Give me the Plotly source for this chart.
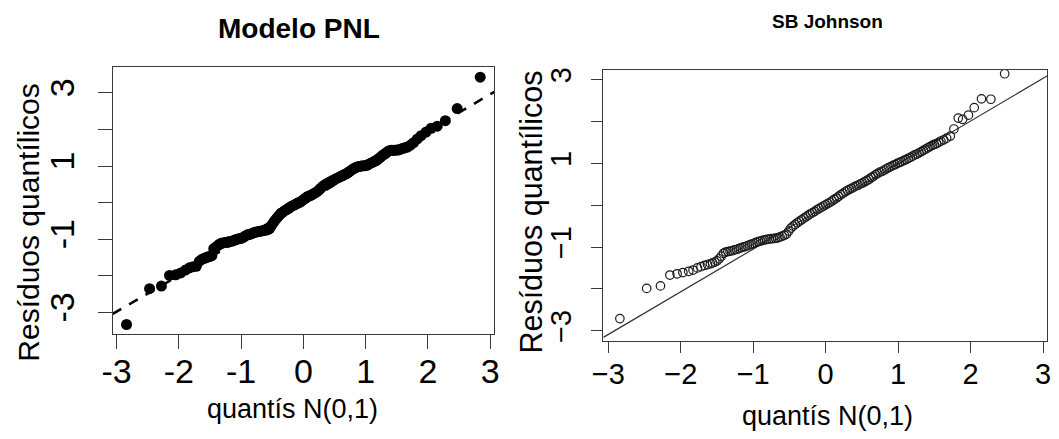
import plotly.graph_objects as go

W, H = 1059, 439

# ---------------- data ----------------
theo_q = [
    -2.84, -2.47, -2.28, -2.15, -2.05, -1.97, -1.89, -1.83, -1.77, -1.72, -1.67, -1.63,
    -1.59, -1.56, -1.53, -1.50, -1.47, -1.44, -1.41, -1.38, -1.35, -1.32,
    -1.29, -1.26, -1.23, -1.20, -1.17, -1.14, -1.11, -1.08, -1.05, -1.02,
    -0.99, -0.96, -0.93, -0.90, -0.87, -0.84, -0.81, -0.78, -0.75, -0.72,
    -0.69, -0.66, -0.63, -0.60, -0.57, -0.54, -0.51, -0.48, -0.45, -0.42,
    -0.39, -0.36, -0.33, -0.30, -0.27, -0.24, -0.21, -0.18, -0.15, -0.12,
    -0.09, -0.06, -0.03, 0.00, 0.03, 0.06, 0.09, 0.12, 0.15, 0.18,
    0.21, 0.24, 0.27, 0.30, 0.33, 0.36, 0.39, 0.42, 0.45, 0.48,
    0.51, 0.54, 0.57, 0.60, 0.63, 0.66, 0.69, 0.72, 0.75, 0.78,
    0.81, 0.84, 0.87, 0.90, 0.93, 0.96, 0.99, 1.02, 1.05, 1.08,
    1.11, 1.14, 1.17, 1.20, 1.23, 1.26, 1.29, 1.32, 1.35, 1.38,
    1.41, 1.44, 1.47, 1.50, 1.53, 1.56, 1.59,
    1.63, 1.67, 1.72, 1.77, 1.83, 1.89, 1.97, 2.05, 2.15, 2.28, 2.47, 2.84,
]

resid_pnl = [
    -3.33, -2.35, -2.28, -1.99, -1.97, -1.92, -1.84, -1.78, -1.75, -1.74, -1.60, -1.55,
    -1.52, -1.50, -1.48, -1.47, -1.45, -1.26, -1.22, -1.18, -1.14, -1.11,
    -1.10, -1.09, -1.08, -1.07, -1.06, -1.05, -1.03, -1.01, -0.99, -0.98,
    -0.97, -0.94, -0.91, -0.88, -0.87, -0.85, -0.83, -0.81, -0.80, -0.79,
    -0.78, -0.77, -0.76, -0.75, -0.74, -0.70, -0.62, -0.54, -0.47, -0.41,
    -0.35, -0.29, -0.26, -0.22, -0.19, -0.16, -0.12, -0.09, -0.07, -0.04,
    -0.01, 0.01, 0.04, 0.08, 0.12, 0.16, 0.18, 0.20, 0.23, 0.26,
    0.29, 0.33, 0.38, 0.43, 0.47, 0.50, 0.53, 0.56, 0.59, 0.61,
    0.64, 0.67, 0.69, 0.72, 0.74, 0.77, 0.79, 0.83, 0.86, 0.90,
    0.93, 0.96, 0.98, 0.99, 1.00, 1.01, 1.01, 1.02, 1.05, 1.08,
    1.10, 1.13, 1.15, 1.19, 1.23, 1.28, 1.31, 1.35, 1.39, 1.42,
    1.43, 1.43, 1.43, 1.44, 1.44, 1.46, 1.48,
    1.50, 1.52, 1.57, 1.64, 1.74, 1.83, 1.93, 2.03, 2.09, 2.24, 2.57, 3.43,
]

# largest SB Johnson residual lies above the plotted range, so it is not listed
resid_sbj = [
    -2.71, -1.99, -1.93, -1.67, -1.64, -1.61, -1.58, -1.55, -1.50, -1.47, -1.44, -1.42,
    -1.40, -1.38, -1.36, -1.33, -1.28, -1.22, -1.15, -1.12, -1.11, -1.10,
    -1.09, -1.07, -1.06, -1.04, -1.02, -1.00, -0.99, -0.97, -0.95, -0.93,
    -0.91, -0.89, -0.87, -0.86, -0.84, -0.83, -0.82, -0.81, -0.80, -0.80,
    -0.79, -0.78, -0.76, -0.74, -0.72, -0.69, -0.62, -0.55, -0.50, -0.46,
    -0.42, -0.38, -0.35, -0.31, -0.28, -0.24, -0.21, -0.18, -0.15, -0.11,
    -0.08, -0.05, -0.02, 0.01, 0.04, 0.07, 0.10, 0.14, 0.17, 0.21,
    0.25, 0.28, 0.32, 0.35, 0.38, 0.40, 0.43, 0.46, 0.48, 0.51,
    0.53, 0.56, 0.59, 0.62, 0.66, 0.69, 0.73, 0.76, 0.79, 0.81,
    0.84, 0.87, 0.90, 0.92, 0.95, 0.97, 1.00, 1.02, 1.04, 1.07,
    1.09, 1.12, 1.14, 1.17, 1.20, 1.22, 1.25, 1.28, 1.31, 1.34,
    1.37, 1.40, 1.43, 1.45, 1.47, 1.50, 1.53,
    1.56, 1.60, 1.65, 1.82, 2.08, 2.05, 2.15, 2.33, 2.54, 2.53, 3.14,
]

pnl_line = {"intercept": -0.01, "slope": 0.99}
sbj_line = {"intercept": -0.03, "slope": 1.02}

tick_vals = [-3, -2, -1, 0, 1, 2, 3]
x_ticktext_left = ["-3", "-2", "-1", "0", "1", "2", "3"]
y_ticktext_left = ["-3", "", "-1", "", "1", "", "3"]
x_ticktext_right = ["\u22123", "\u22122", "\u22121", "0", "1", "2", "3"]
y_ticktext_right = ["\u22123", "", "\u22121", "", "1", "", "3"]

title_left = "Modelo PNL"
title_right = "SB Johnson"
xlab = "quantís N(0,1)"
ylab = "Resíduos quantílicos"

# ---------------- layout geometry (pixels) ----------------
FONT = "Liberation Sans, Arial, sans-serif"
L_box = (102.3, 490.3, 65.7, 335.3)   # left, right, top, bottom
R_box = (601.0, 1052.3, 68.3, 341.7)
L_xr = [-3.063, 3.068]
L_yr = [-3.596, 3.704]
R_xr = [-3.068, 3.06]
R_yr = [-3.236, 3.237]


def dom(box):
    l, r, t, b = box
    return [l / W, r / W], [1 - b / H, 1 - t / H]


Lxd, Lyd = dom(L_box)
Rxd, Ryd = dom(R_box)

fig = go.Figure()

# left panel
fig.add_trace(go.Scatter(
    x=L_xr, y=[pnl_line["intercept"] + pnl_line["slope"] * v for v in L_xr],
    mode="lines", line=dict(color="black", width=2.6, dash="10px,9px"),
    xaxis="x", yaxis="y", hoverinfo="skip", showlegend=False))
fig.add_trace(go.Scatter(
    x=theo_q, y=resid_pnl, mode="markers",
    marker=dict(symbol="circle", size=11, color="black"),
    xaxis="x", yaxis="y", showlegend=False))

# right panel
fig.add_trace(go.Scatter(
    x=R_xr, y=[sbj_line["intercept"] + sbj_line["slope"] * v for v in R_xr],
    mode="lines", line=dict(color="#333333", width=1.2),
    xaxis="x2", yaxis="y2", hoverinfo="skip", showlegend=False))
fig.add_trace(go.Scatter(
    x=theo_q[:len(resid_sbj)], y=resid_sbj, mode="markers",
    marker=dict(symbol="circle-open", size=8.5, color="#1a1a1a", line=dict(width=1.2)),
    xaxis="x2", yaxis="y2", showlegend=False))

axis_common = dict(showgrid=False, zeroline=False, showline=True, mirror=True,
                   linecolor="#3a3a3a", linewidth=1.3, ticks="outside",
                   tickcolor="#3a3a3a", tickwidth=1.3, tickvals=tick_vals)

fig.update_layout(
    width=W, height=H, margin=dict(l=0, r=0, t=0, b=0),
    paper_bgcolor="white", plot_bgcolor="white",
    font=dict(family=FONT, color="black"),
    xaxis=dict(axis_common, domain=Lxd, range=L_xr, anchor="y",
               ticktext=x_ticktext_left, ticklen=14,
               tickfont=dict(size=34, family=FONT), ticklabelstandoff=-7),
    yaxis=dict(axis_common, domain=Lyd, range=L_yr, anchor="x",
               ticktext=y_ticktext_left, ticklen=14, tickangle=-90,
               tickfont=dict(size=34, family=FONT), ticklabelstandoff=10),
    xaxis2=dict(axis_common, domain=Rxd, range=R_xr, anchor="y2",
                ticktext=x_ticktext_right, ticklen=11,
                tickfont=dict(size=29, family=FONT), ticklabelstandoff=-4),
    yaxis2=dict(axis_common, domain=Ryd, range=R_yr, anchor="x2",
                ticktext=y_ticktext_right, ticklen=11, tickangle=-90,
                tickfont=dict(size=29, family=FONT), ticklabelstandoff=9),
)


def ann(text, px, py, size, bold=False, angle=0):
    fig.add_annotation(
        text=f"<b>{text}</b>" if bold else text,
        x=px / W, y=1 - py / H, xref="paper", yref="paper",
        xanchor="center", yanchor="middle", showarrow=False, textangle=angle,
        font=dict(size=size, family=FONT, color="black"))


ann(title_left, 292, 27, 28, bold=True)
ann(title_right, 829, 20, 19, bold=True)
ann(xlab, 285, 411, 27)
ann(xlab, 829, 418, 27)
ann(ylab, 17, 222, 30, angle=-90)
ann(ylab, 528, 212, 30.5, angle=-90)

fig.write_html("out.html")
